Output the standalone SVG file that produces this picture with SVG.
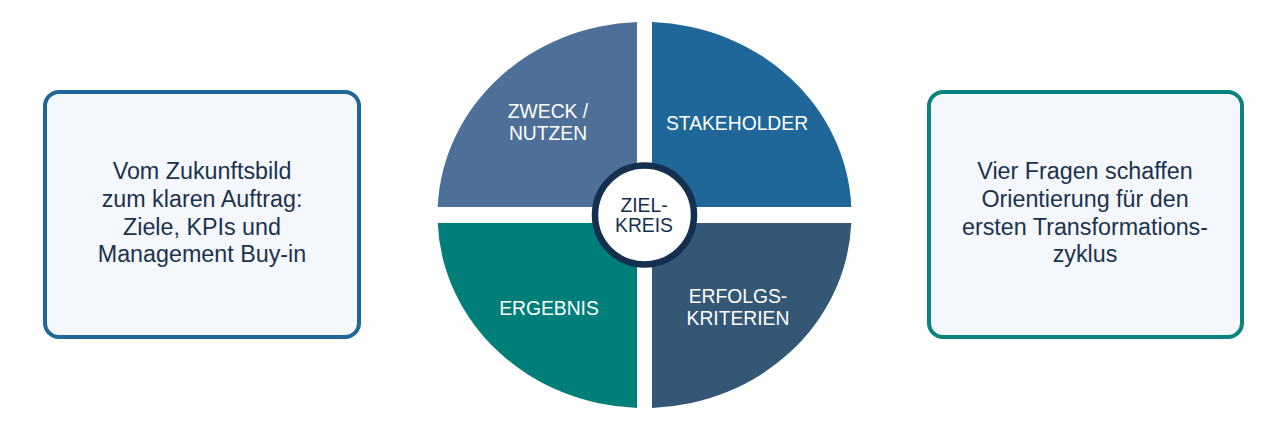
<svg xmlns="http://www.w3.org/2000/svg" width="1287" height="429" viewBox="0 0 1287 429">
<style>
.box{fill:#f4f8fc;stroke-width:4}
.btxt{font-family:"Liberation Sans",Arial,sans-serif;font-size:23.3px;fill:#1b324f;text-anchor:middle}
.qtxt{font-family:"Liberation Sans",Arial,sans-serif;font-size:19.3px;fill:#ffffff;text-anchor:middle}
.ctxt{font-family:"Liberation Sans",Arial,sans-serif;font-size:19.3px;fill:#15304e;text-anchor:middle}
</style>
<rect width="1287" height="429" fill="#ffffff"/>
<g id="left-box">
<rect class="box" x="45" y="92" width="314" height="245" rx="14" stroke="#1f6699"/>
<text class="btxt" x="202" y="178.5">Vom Zukunftsbild</text>
<text class="btxt" x="202" y="206.5">zum klaren Auftrag:</text>
<text class="btxt" x="202" y="234.5">Ziele, KPIs und</text>
<text class="btxt" x="202" y="262">Management Buy-in</text>
</g>
<g id="right-box">
<rect class="box" x="929" y="92" width="313" height="245" rx="14" stroke="#0a827d"/>
<text class="btxt" x="1085" y="178.5">Vier Fragen schaffen</text>
<text class="btxt" x="1085" y="206.5">Orientierung für den</text>
<text class="btxt" x="1085" y="234.5">ersten Transformations-</text>
<text class="btxt" x="1085" y="262">zyklus</text>
</g>
<g id="zweck">
<path d="M637,207 L437.7,207 A207,193 0 0,1 637,22.1 Z" fill="#4e6f97"/>
<text class="qtxt" x="548" y="118">ZWECK /</text>
<text class="qtxt" x="548" y="140">NUTZEN</text>
</g>
<g id="stakeholder">
<path d="M652,207 L652,22.1 A207,193 0 0,1 851.3,207 Z" fill="#1f6699"/>
<text class="qtxt" x="737" y="129.5">STAKEHOLDER</text>
</g>
<g id="erfolgskriterien">
<path d="M652,223 L851.3,223 A207,193 0 0,1 652,407.9 Z" fill="#335775"/>
<text class="qtxt" x="738" y="303">ERFOLGS-</text>
<text class="qtxt" x="738" y="324.5">KRITERIEN</text>
</g>
<g id="ergebnis">
<path d="M637,223 L637,407.9 A207,193 0 0,1 437.7,223 Z" fill="#007f7a"/>
<text class="qtxt" x="549" y="314.5">ERGEBNIS</text>
</g>
<g id="zielkreis">
<circle cx="644.5" cy="215" r="49.5" fill="#ffffff" stroke="#15304e" stroke-width="6.5"/>
<text class="ctxt" x="644" y="212">ZIEL-</text>
<text class="ctxt" x="644" y="232">KREIS</text>
</g>
<g id="connectors"/>
</svg>
